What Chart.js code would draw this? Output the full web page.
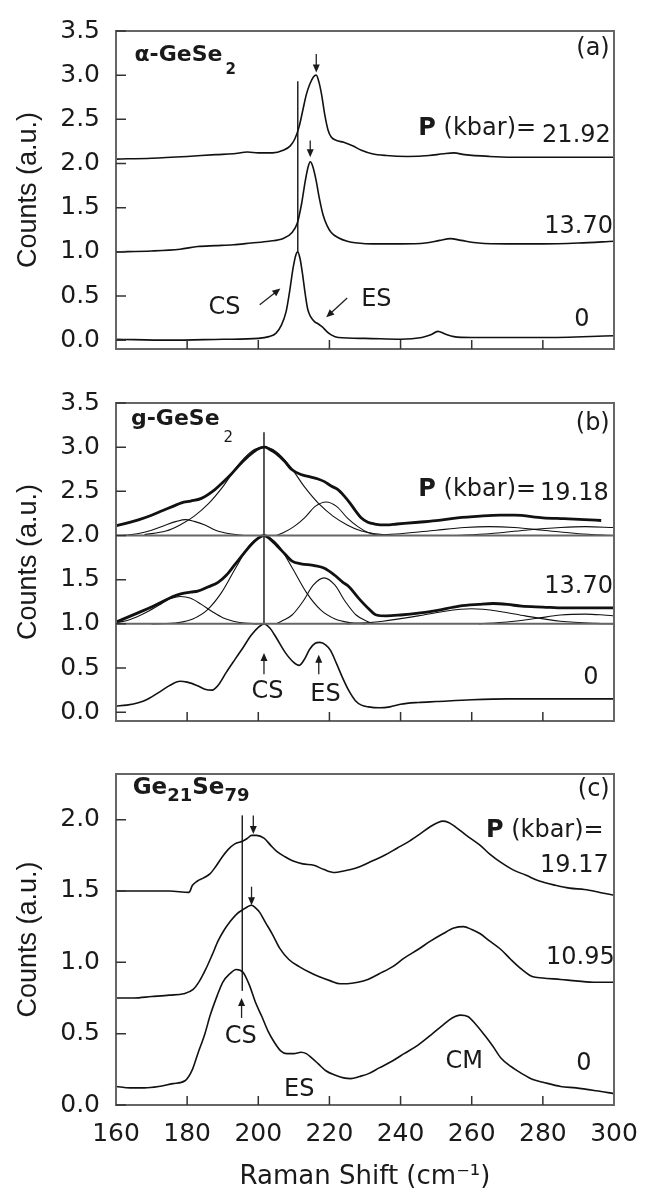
<!DOCTYPE html>
<html>
<head>
<meta charset="utf-8">
<script src="https://cdn.jsdelivr.net/npm/chart.js@4/dist/chart.umd.min.js"></script>
<style>
  html, body { margin: 0; padding: 0; background: #fff; }
  #wrap { position: relative; width: 652px; height: 1196px; overflow: hidden; }
  canvas { position: absolute; left: 0; }
</style>
</head>
<body>
<div id="wrap">
  <canvas id="chartA" width="652" height="380" style="top:0"></canvas>
  <canvas id="chartB" width="652" height="380" style="top:372px"></canvas>
  <canvas id="chartC" width="652" height="453" style="top:743px"></canvas>
</div>
<script>
// axes
const xTicks = [160, 180, 200, 220, 240, 260, 280, 300];
const yTicksAB = [0, 0.5, 1, 1.5, 2, 2.5, 3, 3.5];
const yTicksC = [0, 0.5, 1, 1.5, 2];

// (a) alpha-GeSe2, [shift, counts]
const a_p0 = [[160,0.01],[175,0.0],[190,0.01],[200,0.02],[203,0.04],[205,0.08],[206.5,0.17],[207.8,0.32],[208.8,0.55],[209.8,0.82],[210.6,0.97],[211.1,1.0],[211.7,0.93],[212.4,0.76],[213.2,0.52],[213.9,0.35],[214.8,0.26],[215.8,0.21],[217,0.18],[218,0.15],[219.2,0.1],[220.5,0.06],[222.5,0.03],[230,0.02],[240,0.01],[246,0.03],[248.5,0.06],[250.5,0.1],[252.5,0.07],[255,0.04],[260,0.03],[280,0.03],[300,0.05]];
const a_p13 = [[160,1.0],[170,1.01],[178,1.03],[183,1.06],[188,1.07],[193,1.08],[198,1.1],[203,1.12],[207,1.15],[209.5,1.22],[211,1.33],[212.2,1.55],[213.2,1.8],[214,1.96],[214.6,2.02],[215.3,1.97],[216.2,1.82],[217.2,1.6],[218.2,1.42],[219.3,1.3],[220.5,1.22],[222.5,1.16],[225,1.12],[228,1.1],[232,1.09],[240,1.09],[247,1.1],[251,1.13],[254,1.15],[257,1.13],[262,1.1],[270,1.09],[280,1.09],[290,1.1],[300,1.12]];
const a_p21 = [[160,2.05],[170,2.06],[180,2.08],[188,2.1],[193,2.11],[197,2.13],[200,2.12],[204,2.12],[207,2.15],[209,2.2],[210.3,2.28],[211.5,2.42],[212.5,2.6],[213.5,2.78],[214.5,2.9],[215.5,2.98],[216.3,3.0],[217,2.93],[217.8,2.78],[218.7,2.55],[219.6,2.38],[220.5,2.3],[222,2.26],[224,2.24],[226.5,2.2],[229,2.15],[232,2.11],[236,2.09],[242,2.08],[248,2.09],[252,2.11],[255,2.12],[258,2.1],[265,2.08],[275,2.07],[285,2.07],[293,2.07],[300,2.07]];
const a_mark = [[211.1,1.0],[211.1,2.93]];

// (b) g-GeSe2 measured spectra
const b_p0 = [[160,0.07],[163,0.08],[166.5,0.11],[169,0.15],[172.3,0.23],[175,0.3],[178,0.35],[180,0.34],[182.9,0.3],[185,0.26],[187,0.25],[189,0.32],[191,0.45],[193.5,0.6],[195.7,0.73],[198,0.87],[200,0.96],[201.6,1.0],[203.3,0.95],[205.1,0.84],[207.5,0.68],[209.8,0.57],[211.5,0.53],[213,0.6],[214.4,0.71],[216,0.78],[217.3,0.79],[219,0.76],[220.3,0.7],[222,0.55],[223.8,0.38],[225.5,0.24],[227.3,0.13],[229,0.08],[231,0.06],[234,0.05],[237,0.06],[240,0.09],[245,0.11],[250,0.12],[260,0.14],[270,0.15],[280,0.15],[290,0.15],[300,0.15]];
const b_p13 = [[160,1.02],[163,1.07],[166.5,1.13],[170,1.19],[173,1.25],[176,1.31],[178.2,1.34],[181,1.36],[183,1.37],[186,1.42],[188.7,1.47],[191,1.55],[193.4,1.67],[196,1.8],[198.1,1.9],[200,1.97],[201.6,2.0],[203,1.97],[205.1,1.89],[207.5,1.79],[209.5,1.71],[212,1.68],[215.8,1.66],[218.6,1.63],[221.5,1.55],[223.8,1.47],[225.5,1.42],[228,1.3],[230.8,1.18],[233.2,1.1],[236,1.09],[240,1.1],[245,1.12],[250,1.15],[256.5,1.2],[262,1.22],[266,1.23],[270,1.22],[274,1.2],[280,1.19],[286,1.18],[293,1.18],[300,1.18]];
const b_p19 = [[160,2.11],[163,2.14],[166.5,2.18],[170,2.23],[173,2.28],[176,2.33],[178.4,2.37],[181,2.39],[184,2.42],[187.8,2.52],[190,2.6],[192.5,2.7],[195.7,2.84],[198.5,2.94],[200.5,2.99],[201.9,3.0],[203,2.98],[205,2.93],[207.4,2.84],[209.3,2.75],[212,2.69],[214,2.67],[216.8,2.64],[218.6,2.61],[220.5,2.56],[222.4,2.52],[224.3,2.44],[226.1,2.35],[227.5,2.27],[228.9,2.2],[230.8,2.15],[232.7,2.13],[236,2.12],[239,2.13],[245,2.15],[250.7,2.17],[256,2.2],[262.4,2.22],[268,2.23],[272,2.23],[280,2.2],[286,2.19],[291.7,2.18],[296.4,2.17]];

// (b) fitted components, 13.70 kbar
const b13_c1 = [[160,1.01],[164,1.05],[168,1.12],[172,1.21],[175,1.28],[178,1.31],[181,1.29],[184,1.22],[187,1.14],[190,1.07],[193,1.03],[196,1.01],[200,1.0]];
const b13_cs = [[170,1.0],[177.6,1.015],[181.6,1.055],[185.6,1.155],[189.6,1.35],[193.6,1.63],[197.6,1.89],[201.6,2.0],[205.6,1.89],[209.6,1.63],[213.6,1.35],[217.6,1.155],[221.6,1.055],[225.6,1.015],[230,1.0]];
const b13_es = [[205,1.0],[206.5,1.03],[209.5,1.1],[212.5,1.25],[215.5,1.44],[218.5,1.52],[221.5,1.44],[224.5,1.25],[227.5,1.1],[230.5,1.03],[233,1.0]];
const b13_w1 = [[225,1.0],[235,1.03],[245,1.09],[252,1.14],[260,1.17],[268,1.14],[275,1.09],[285,1.03],[295,1.005],[300,1.0]];
const b13_w2 = [[262,1.0],[270,1.02],[278,1.06],[285,1.1],[292,1.11],[297,1.1],[300,1.09]];

// (b) fitted components, 19.18 kbar
const b19_c1 = [[162,2.0],[166,2.02],[170,2.06],[174,2.12],[177,2.16],[179.5,2.18],[182,2.16],[185,2.12],[188,2.06],[192,2.02],[196,2.0]];
const b19_cs = [[168,2.01],[174,2.05],[178,2.12],[182,2.22],[186,2.36],[190,2.55],[194,2.78],[198,2.95],[201.6,3.0],[205,2.95],[209,2.78],[213,2.55],[217,2.36],[221,2.22],[225,2.12],[229,2.05],[233,2.02],[238,2.0]];
const b19_es = [[205,2.0],[207,2.03],[210,2.1],[213,2.2],[216,2.33],[219.1,2.38],[222,2.33],[225,2.2],[228,2.1],[231,2.03],[234,2.0]];
const b19_w1 = [[230,2.0],[240,2.02],[250,2.06],[258,2.09],[265,2.1],[272,2.09],[280,2.06],[290,2.02],[300,2.0]];
const b19_w2 = [[255,2.0],[265,2.02],[275,2.06],[285,2.09],[292,2.1],[300,2.09]];

const b_base1 = [[160,1.0],[300,1.0]];
const b_base2 = [[160,2.0],[300,2.0]];
const b_mark = [[201.6,1.0],[201.6,3.17]];

// (c) Ge21Se79
const c_p0 = [[160,0.13],[164,0.12],[168,0.12],[172,0.13],[176,0.15],[179.4,0.17],[181.5,0.25],[183,0.36],[185,0.5],[186.5,0.63],[188.5,0.77],[190,0.86],[192,0.92],[193.8,0.95],[195.7,0.93],[197.5,0.84],[199.2,0.72],[201,0.62],[202.7,0.52],[204.5,0.44],[206.3,0.38],[208,0.36],[210,0.36],[212,0.37],[213.5,0.36],[215,0.33],[216.8,0.29],[219,0.24],[221.5,0.21],[224,0.19],[226,0.185],[228.5,0.2],[231,0.22],[234,0.26],[237.8,0.31],[241,0.36],[244.9,0.42],[248.5,0.49],[251.9,0.56],[254.5,0.61],[256.8,0.63],[258.9,0.62],[261,0.57],[263.6,0.49],[266,0.41],[268.2,0.33],[271,0.27],[274.1,0.22],[277,0.18],[280,0.16],[285,0.13],[289.3,0.12],[295,0.1],[300,0.08]];
const c_p10 = [[160,0.75],[165,0.75],[170,0.76],[175,0.77],[179,0.78],[181.7,0.81],[183.5,0.87],[185.2,0.95],[187,1.05],[188.7,1.15],[190.5,1.23],[192.2,1.29],[194,1.34],[195.7,1.37],[197,1.39],[198.1,1.4],[199.3,1.38],[200.4,1.35],[202,1.28],[203.9,1.2],[206,1.1],[208.6,1.02],[211.5,0.97],[214.4,0.93],[217,0.9],[220.3,0.87],[223,0.85],[225,0.85],[228,0.86],[230.8,0.88],[234,0.92],[237.8,0.97],[241,1.03],[244.9,1.09],[248.5,1.15],[251.9,1.2],[255,1.24],[257.7,1.25],[260,1.23],[262.4,1.2],[265,1.15],[268.2,1.09],[271,1.02],[274.1,0.95],[277,0.9],[279.9,0.89],[285,0.88],[289.3,0.87],[295,0.86],[300,0.86]];
const c_p19 = [[160,1.5],[165,1.5],[170,1.5],[175,1.5],[180.5,1.49],[181.5,1.54],[182.9,1.57],[184.5,1.59],[186.4,1.62],[188,1.67],[189.9,1.74],[191.5,1.79],[193.4,1.83],[195.7,1.85],[197,1.87],[198.1,1.89],[199.5,1.89],[201.6,1.87],[203.5,1.82],[205.1,1.78],[207.5,1.74],[209.8,1.71],[212.5,1.69],[215.6,1.68],[218.5,1.65],[221.5,1.63],[224,1.64],[226,1.65],[228.5,1.67],[232,1.71],[235.5,1.75],[239,1.8],[242.5,1.85],[245.5,1.9],[248.3,1.95],[250.5,1.98],[251.9,1.99],[253.5,1.98],[255.4,1.95],[258.5,1.89],[262.4,1.82],[265,1.76],[268.2,1.7],[271.5,1.65],[275.3,1.61],[279,1.57],[283.5,1.54],[287.5,1.52],[291.7,1.51],[296,1.49],[300,1.47]];
const c_mark = [[195.5,0.8],[195.5,2.03]];

const FONT = '"DejaVu Sans", sans-serif';

function pts(list) {
  return list.map(p => ({ x: p[0], y: p[1] }));
}

function trace(list, width) {
  return {
    data: pts(list),
    borderColor: '#111',
    borderWidth: width || 1.6,
    pointRadius: 0,
    fill: false,
    cubicInterpolationMode: 'monotone'
  };
}

function straight(list, color, width) {
  return {
    data: pts(list),
    borderColor: color,
    borderWidth: width,
    pointRadius: 0,
    fill: false,
    tension: 0
  };
}

function drawArrow(ctx, x1, y1, x2, y2) {
  const ang = Math.atan2(y2 - y1, x2 - x1);
  const len = 8, half = 3.5;
  ctx.beginPath();
  ctx.moveTo(x1, y1);
  ctx.lineTo(x2 - Math.cos(ang) * len * 0.7, y2 - Math.sin(ang) * len * 0.7);
  ctx.stroke();
  ctx.beginPath();
  ctx.moveTo(x2, y2);
  ctx.lineTo(x2 - Math.cos(ang) * len - Math.sin(ang) * half, y2 - Math.sin(ang) * len + Math.cos(ang) * half);
  ctx.lineTo(x2 - Math.cos(ang) * len + Math.sin(ang) * half, y2 - Math.sin(ang) * len - Math.cos(ang) * half);
  ctx.closePath();
  ctx.fill();
}

function partFont(p, size) {
  const s = p.sub ? Math.round(size * (p.scale || 0.68)) : size;
  return (p.bold ? 'bold ' : '') + s + 'px ' + FONT;
}

function drawRich(ctx, t, px, py) {
  const size = t.size || 24;
  let total = 0;
  t.parts.forEach(p => {
    ctx.font = partFont(p, size);
    total += ctx.measureText(p.s).width + (p.gap || 0);
  });
  let x = px;
  if (t.align === 'right') x = px - total;
  if (t.align === 'center') x = px - total / 2;
  ctx.textAlign = 'left';
  ctx.textBaseline = 'middle';
  t.parts.forEach(p => {
    ctx.font = partFont(p, size);
    x += (p.gap || 0);
    ctx.fillText(p.s, x, py + (p.dy || 0));
    x += ctx.measureText(p.s).width;
  });
}

const panelDecor = {
  id: 'panelDecor',
  afterDatasetsDraw(chart, args, opts) {
    const { ctx, chartArea: a } = chart;
    const x = chart.scales.x, y = chart.scales.y;
    ctx.save();
    ctx.strokeStyle = '#666';
    ctx.lineWidth = 2;
    ctx.strokeRect(a.left, a.top, a.right - a.left, a.bottom - a.top);

    ctx.strokeStyle = '#333';
    ctx.lineWidth = 1.5;
    ctx.beginPath();
    y.ticks.forEach(t => {
      const py = y.getPixelForValue(t.value);
      ctx.moveTo(a.left, py);
      ctx.lineTo(a.left + 10, py);
    });
    xTicks.forEach(v => {
      if (v <= x.min || v >= x.max) return;
      const px = x.getPixelForValue(v);
      ctx.moveTo(px, a.bottom);
      ctx.lineTo(px, a.bottom - 9);
    });
    ctx.stroke();

    ctx.strokeStyle = '#222';
    ctx.fillStyle = '#1a1a1a';
    ctx.lineWidth = 1.3;
    (opts.arrows || []).forEach(ar => {
      drawArrow(ctx,
        x.getPixelForValue(ar[0]), y.getPixelForValue(ar[1]),
        x.getPixelForValue(ar[2]), y.getPixelForValue(ar[3]));
    });
    (opts.texts || []).forEach(t => {
      drawRich(ctx, t, x.getPixelForValue(t.at[0]), y.getPixelForValue(t.at[1]));
    });
    ctx.restore();
  }
};

function makeChart(id, datasets, yMin, yMax, yTicks, showX, decor) {
  const xScale = {
    type: 'linear',
    min: 160,
    max: 300,
    display: showX,
    grid: { display: false, drawTicks: false },
    border: { display: false },
    afterBuildTicks: s => { s.ticks = xTicks.map(v => ({ value: v })); },
    ticks: {
      padding: 14,
      color: '#1a1a1a',
      font: { family: 'DejaVu Sans', size: 25 },
      callback: v => String(v)
    },
    title: {
      display: showX,
      text: 'Raman Shift (cm\u207B\u00B9)',
      color: '#1a1a1a',
      font: { family: 'DejaVu Sans', size: 26 },
      padding: { top: 0, bottom: 3 }
    }
  };
  if (showX) xScale.afterFit = s => { s.height = 91; };

  return new Chart(document.getElementById(id), {
    type: 'line',
    data: { datasets },
    plugins: [panelDecor],
    options: {
      responsive: false,
      animation: false,
      devicePixelRatio: 1,
      layout: { padding: { top: 24, right: 38, bottom: showX ? 0 : 21, left: 0 } },
      plugins: {
        legend: { display: false },
        tooltip: { enabled: false },
        panelDecor: decor
      },
      scales: {
        x: xScale,
        y: {
          type: 'linear',
          min: yMin,
          max: yMax,
          grid: { display: false, drawTicks: false },
          border: { display: false },
          afterBuildTicks: s => { s.ticks = yTicks.map(v => ({ value: v })); },
          afterFit: s => { s.width = 116; },
          ticks: {
            padding: 16,
            color: '#1a1a1a',
            font: { family: 'DejaVu Sans', size: 25 },
            callback: v => Number(v).toFixed(1)
          },
          title: {
            display: true,
            text: 'Counts (a.u.)',
            color: '#1a1a1a',
            font: { family: 'Liberation Sans', size: 27 },
            padding: { top: 12, bottom: 0 }
          }
        }
      }
    }
  });
}

// panel (a)
makeChart('chartA', [
  trace(a_p0), trace(a_p13), trace(a_p21),
  straight(a_mark, '#222', 1.5)
], -0.1, 3.5, yTicksAB, false, {
  texts: [
    { at: [165.2, 3.22], size: 22, parts: [{ s: '\u03B1-GeSe', bold: true }, { s: '2', bold: true, sub: true, dy: 14, gap: 3 }] },
    { at: [298.8, 3.3], align: 'right', parts: [{ s: '(a)' }] },
    { at: [245.0, 2.39], parts: [{ s: 'P', bold: true }, { s: ' (kbar)=' }] },
    { at: [299.1, 2.31], align: 'right', parts: [{ s: '21.92' }] },
    { at: [299.7, 1.28], align: 'right', parts: [{ s: '13.70' }] },
    { at: [291, 0.23], align: 'center', parts: [{ s: '0' }] },
    { at: [190.5, 0.37], align: 'center', parts: [{ s: 'CS' }] },
    { at: [233.2, 0.455], align: 'center', parts: [{ s: 'ES' }] }
  ],
  arrows: [
    [200.4, 0.40, 206.2, 0.585],
    [225.0, 0.477, 219.1, 0.26],
    [216.3, 3.24, 216.3, 3.03],
    [214.6, 2.26, 214.6, 2.07]
  ]
});

// panel (b)
const thin = 1.1;
makeChart('chartB', [
  straight(b_base1, '#666', 2), straight(b_base2, '#666', 2),
  trace(b13_c1, thin), trace(b13_cs, thin), trace(b13_es, thin), trace(b13_w1, thin), trace(b13_w2, thin),
  trace(b19_c1, thin), trace(b19_cs, thin), trace(b19_es, thin), trace(b19_w1, thin), trace(b19_w2, thin),
  trace(b_p0, 1.6), trace(b_p13, 2.8), trace(b_p19, 2.8),
  straight(b_mark, '#222', 1.5)
], -0.1, 3.5, yTicksAB, false, {
  texts: [
    { at: [164.2, 3.32], size: 22, parts: [{ s: 'g-GeSe', bold: true }, { s: '2', sub: true, dy: 19, gap: 4 }] },
    { at: [298.8, 3.26], align: 'right', parts: [{ s: '(b)' }] },
    { at: [245.0, 2.52], parts: [{ s: 'P', bold: true }, { s: ' (kbar)=' }] },
    { at: [298.5, 2.47], align: 'right', parts: [{ s: '19.18' }] },
    { at: [299.7, 1.42], align: 'right', parts: [{ s: '13.70' }] },
    { at: [293.5, 0.39], align: 'center', parts: [{ s: '0' }] },
    { at: [202.6, 0.23], align: 'center', parts: [{ s: 'CS' }] },
    { at: [218.9, 0.2], align: 'center', parts: [{ s: 'ES' }] }
  ],
  arrows: [
    [201.6, 0.43, 201.6, 0.67],
    [217.0, 0.43, 217.0, 0.65]
  ]
});

// panel (c)
makeChart('chartC', [
  trace(c_p0), trace(c_p10), trace(c_p19),
  straight(c_mark, '#222', 1.5)
], 0, 2.32, yTicksC, true, {
  texts: [
    { at: [164.7, 2.22], size: 23, parts: [
      { s: 'Ge', bold: true }, { s: '21', bold: true, sub: true, scale: 0.8, dy: 8 },
      { s: 'Se', bold: true }, { s: '79', bold: true, sub: true, scale: 0.8, dy: 8 }] },
    { at: [298.8, 2.21], align: 'right', parts: [{ s: '(c)' }] },
    { at: [264.0, 1.92], parts: [{ s: 'P', bold: true }, { s: ' (kbar)=' }] },
    { at: [298.5, 1.68], align: 'right', parts: [{ s: '19.17' }] },
    { at: [300.2, 1.03], align: 'right', parts: [{ s: '10.95' }] },
    { at: [291.5, 0.29], align: 'center', parts: [{ s: '0' }] },
    { at: [195.1, 0.48], align: 'center', parts: [{ s: 'CS' }] },
    { at: [211.5, 0.105], align: 'center', parts: [{ s: 'ES' }] },
    { at: [257.9, 0.3], align: 'center', parts: [{ s: 'CM' }] }
  ],
  arrows: [
    [198.6, 2.03, 198.6, 1.9],
    [198.1, 1.53, 198.1, 1.4],
    [195.3, 0.61, 195.3, 0.75]
  ]
});
</script>
</body>
</html>
